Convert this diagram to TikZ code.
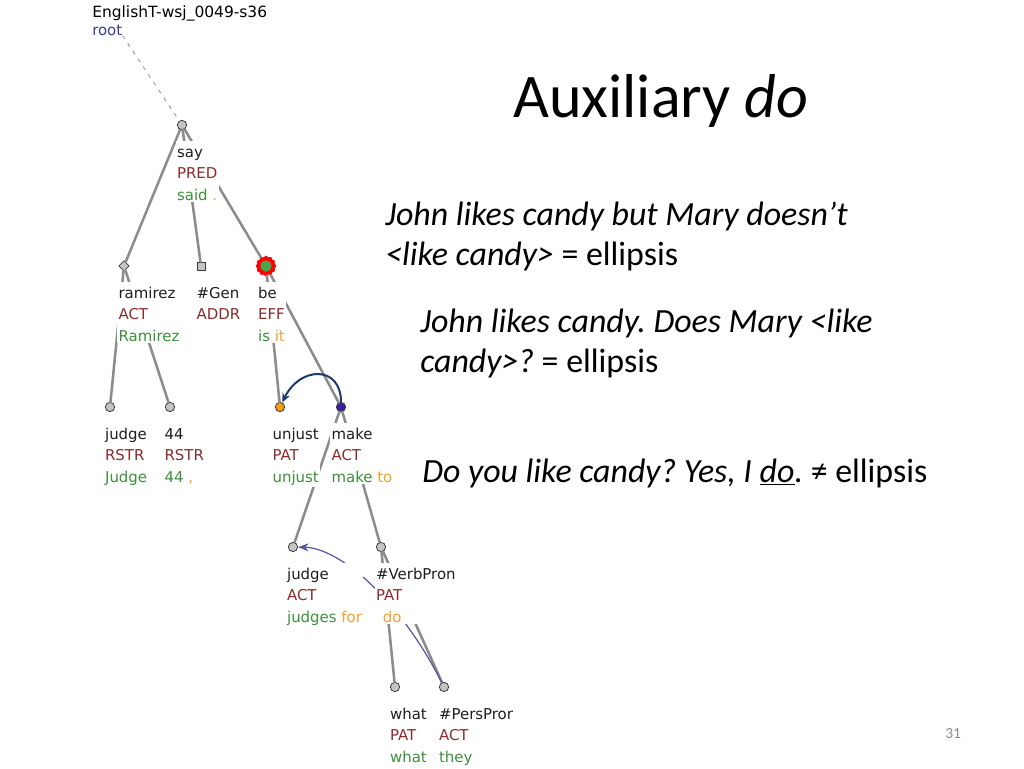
\documentclass[tikz,border=0pt]{standalone}
\usepackage{fontspec}
\setmainfont{Carlito}
\newfontfamily\treefont{DejaVu Sans}
\usetikzlibrary{shapes.geometric,arrows.meta}
\frenchspacing

\definecolor{edgegray}{HTML}{8C8C8C}
\definecolor{nodegray}{HTML}{C4C4C4}
\definecolor{nodeline}{HTML}{3A3A3A}
\definecolor{wordc}{HTML}{1E1E1E}
\definecolor{fnc}{HTML}{8A2B2B}
\definecolor{frm}{HTML}{3D8F3D}
\definecolor{orng}{HTML}{F5A030}
\definecolor{rootblue}{HTML}{3C3C96}
\definecolor{unjorange}{HTML}{F39C12}
\definecolor{makepurple}{HTML}{3A1E9E}
\definecolor{begreen}{HTML}{4CA64C}
\definecolor{ctrlnavy}{HTML}{1A3A6E}
\definecolor{corefblue}{HTML}{5555A8}
\definecolor{pagegray}{HTML}{8C8C8C}

\newcommand{\tlab}[3]{\strut #1\\\textcolor{fnc}{#2}\\\textcolor{frm}{#3}}

\begin{document}
\begin{tikzpicture}[x=0.75pt,y=-0.75pt,
    tnode/.style={circle,draw=nodeline,fill=nodegray,line width=0.6pt,inner sep=0pt,minimum size=7pt},
    lbl/.style={anchor=north west,align=left,fill=white,inner sep=1pt,text=wordc,
        font=\treefont\fontsize{11.2}{16}\selectfont},
    branch/.style={draw=edgegray,line width=1.9pt,line cap=round},
    body/.style={anchor=base west,inner sep=0pt,font=\fontsize{25.4}{30}\selectfont}]
    \useasboundingbox (0,0) rectangle (1024,768);

    \node[anchor=base west,inner sep=0pt,font=\treefont\fontsize{11.6}{14}\selectfont] (sent) at (92,17.5) {EnglishT-wsj\_0049-s36};
    \node[anchor=base west,inner sep=0pt,font=\treefont\fontsize{11.2}{14}\selectfont,text=rootblue] (root) at (92,35) {root};

    \node[tnode] (say) at (182,125) {};
    \node[tnode,diamond,minimum size=8pt] (ramirez) at (124,266) {};
    \node[tnode,rectangle,minimum size=6pt] (gen) at (201,266) {};
    \node[star,star points=12,star point ratio=1.15,fill=red,draw=red,inner sep=0pt,minimum size=15pt] (be) at (266,266) {};
    \node[circle,fill=begreen,inner sep=0pt,minimum size=8.5pt] (becore) at (266,266) {};
    \node[tnode] (judgeA) at (110,407) {};
    \node[tnode] (n44) at (170,407) {};
    \node[tnode,fill=unjorange] (unjust) at (280,407) {};
    \node[tnode,fill=makepurple] (make) at (341,407) {};
    \node[tnode] (judgeB) at (293,547) {};
    \node[tnode] (vp) at (381,547) {};
    \node[tnode] (what) at (395,687) {};
    \node[tnode] (pp) at (444,687) {};

    \draw[edgegray,line width=0.6pt,dash pattern=on 3pt off 4pt] (root.south east) -- (say);
    \draw[branch] (say) -- (ramirez);
    \draw[branch] (say) -- (gen);
    \draw[branch] (say) -- (be);
    \draw[branch] (ramirez) -- (judgeA);
    \draw[branch] (ramirez) -- (n44);
    \draw[branch] (be) -- (unjust);
    \draw[branch] (be) -- (make);
    \draw[branch] (make) -- (judgeB);
    \draw[branch] (make) -- (vp);
    \draw[branch] (vp) -- (what);
    \draw[branch] (vp) -- (pp);

    \draw[-{Stealth[length=7pt,width=6pt]},ctrlnavy,line width=1.5pt] (make) .. controls (341,365) and (300,366) .. (unjust);
    \draw[-{Stealth[length=8pt,width=6pt]},corefblue,line width=0.9pt] (pp) .. controls (400,600) and (340,548) .. (judgeB);

    \begin{scope}
        \clip (0,0) rectangle (512,768);
        \node[lbl] (sayl) at (175.5,141) {\tlab{say}{PRED}{said \textcolor{orng}{.}}};
        \node[lbl] (ramirezl) at (117,282) {\tlab{ramirez}{ACT}{Ramirez}};
        \node[lbl] (genl) at (195,282) {\tlab{\#Gen}{ADDR}{}};
        \node[lbl] (bel) at (256.5,282) {\tlab{be}{EFF}{is \textcolor{orng}{it}}};
        \node[lbl] (judgeAl) at (103.5,423) {\tlab{judge}{RSTR}{Judge}};
        \node[lbl] (n44l) at (163,423) {\tlab{44}{RSTR}{44 \textcolor{orng}{,}}};
        \node[lbl] (unjustl) at (271,423) {\tlab{unjust}{PAT}{unjust}};
        \node[lbl] (makel) at (330,423) {\tlab{make}{ACT}{make \textcolor{orng}{to}}};
        \node[lbl] (judgeBl) at (285.5,563) {\tlab{judge}{ACT}{judges \textcolor{orng}{for}}};
        \node[lbl] (vpl) at (374.5,563) {\tlab{\#VerbPron}{PAT}{\hspace{5pt}\textcolor{orng}{do}}};
        \node[lbl] (whatl) at (388.5,703) {\tlab{what}{PAT}{what}};
        \node[lbl] (ppl) at (437.5,703) {\tlab{\#PersPron}{ACT}{they}};
    \end{scope}

    \node[body,font=\fontsize{46.5}{50}\selectfont] (heading) at (513,117) {Auxiliary \textit{do}};
    \node[body] (exa1) at (385,225) {\textit{John likes candy but Mary doesn’t}};
    \node[body] (exa2) at (385,265) {\textit{<like candy>} = ellipsis};
    \node[body] (exb1) at (420,332) {\textit{John likes candy. Does Mary <like}};
    \node[body] (exb2) at (420,372) {\textit{candy>?} = ellipsis};
    \node[body] (exc) at (422,482) {\textit{Do you like candy? Yes, I \underline{do}.} ≠ ellipsis};

    \node[anchor=base west,inner sep=0pt,font=\fontsize{11.6}{12}\selectfont,text=pagegray] (pnum) at (945,738) {31};
\end{tikzpicture}
\end{document}
